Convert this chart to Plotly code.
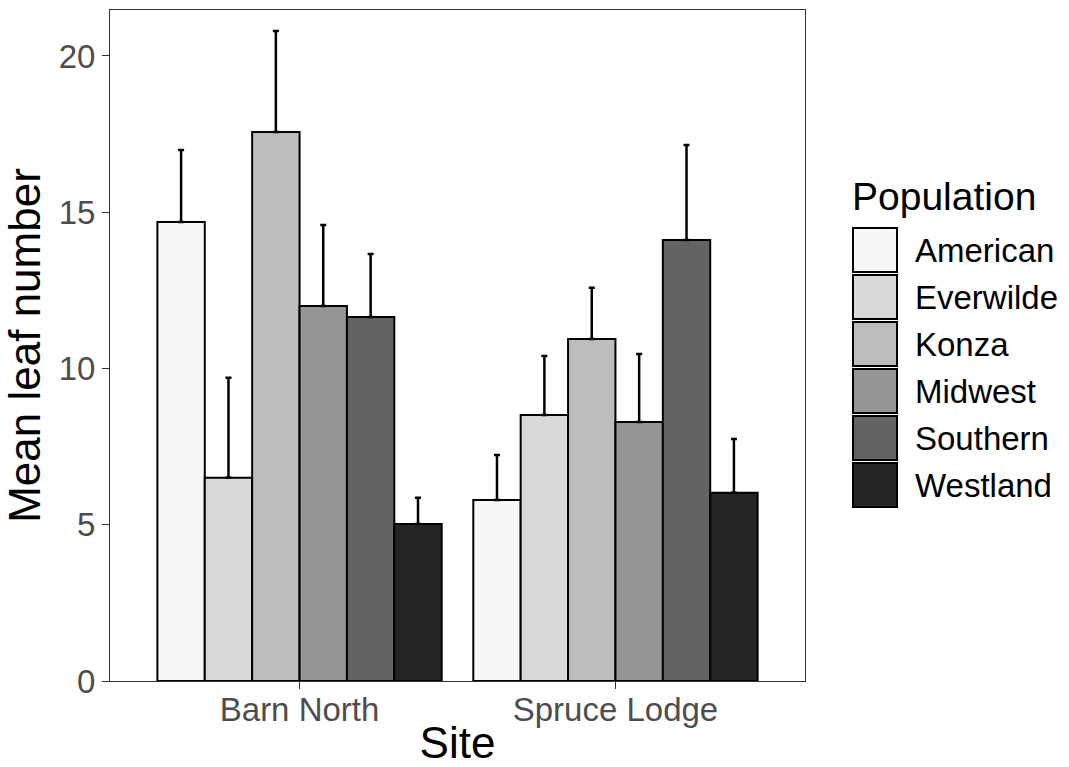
import plotly.graph_objects as go

sites = ["Barn North", "Spruce Lodge"]
populations = ["American", "Everwilde", "Konza", "Midwest", "Southern", "Westland"]
colors = ["#F7F7F7", "#D9D9D9", "#BDBDBD", "#969696", "#636363", "#252525"]

# mean leaf number per population: [Barn North, Spruce Lodge]
mean_american = [14.69, 5.79]
mean_everwilde = [6.50, 8.51]
mean_konza = [17.57, 10.94]
mean_midwest = [12.00, 8.29]
mean_southern = [11.65, 14.11]
mean_westland = [5.02, 6.02]

# upper error (SE) per population: [Barn North, Spruce Lodge]
se_american = [2.30, 1.44]
se_everwilde = [3.20, 1.89]
se_konza = [3.23, 1.64]
se_midwest = [2.59, 2.17]
se_southern = [2.01, 3.04]
se_westland = [0.84, 1.72]

means = [mean_american, mean_everwilde, mean_konza, mean_midwest, mean_southern, mean_westland]
ses = [se_american, se_everwilde, se_konza, se_midwest, se_southern, se_westland]

FONT = "Liberation Sans, Arial, sans-serif"

fig = go.Figure()
for name, col, m, s in zip(populations, colors, means, ses):
    fig.add_trace(go.Bar(
        x=sites, y=m, name=name,
        marker=dict(color=col, line=dict(color="black", width=2)),
        error_y=dict(type="data", array=s, arrayminus=[0] * len(s), symmetric=False,
                     color="black", thickness=2.5, width=3),
        showlegend=False,
    ))

W, H = 1069, 767
L, R, T, B = 110, 805, 10, 681

def px_x(x):
    return (x - L) / (R - L)

def px_y(y):
    return (B - y) / (B - T)

shapes = []
annotations = []
annotations.append(dict(text="Population", x=px_x(850), y=px_y(196), xref="paper", yref="paper",
                        xanchor="left", yanchor="middle", showarrow=False,
                        font=dict(family=FONT, size=39, color="black")))
for i, (name, col) in enumerate(zip(populations, colors)):
    top = 228 + 47 * i
    bot = top + 44
    shapes.append(dict(type="rect", xref="paper", yref="paper",
                       x0=px_x(853), x1=px_x(897), y0=px_y(bot), y1=px_y(top),
                       fillcolor=col, line=dict(color="black", width=2)))
    annotations.append(dict(text=name, x=px_x(913), y=px_y((top + bot) / 2), xref="paper", yref="paper",
                            xanchor="left", yanchor="middle", showarrow=False,
                            font=dict(family=FONT, size=33, color="black")))

fig.update_layout(
    width=W, height=H,
    margin=dict(l=L, r=W - R, t=T, b=H - B, pad=0, autoexpand=False),
    barmode="group", bargap=0.1, bargroupgap=0,
    plot_bgcolor="white", paper_bgcolor="white",
    font=dict(family=FONT),
    shapes=shapes, annotations=annotations,
    xaxis=dict(range=[-0.6, 1.6], showgrid=False, zeroline=False, automargin=False,
               showline=True, linecolor="#333333", linewidth=1, mirror=True,
               ticks="outside", ticklen=7, tickcolor="#333333", tickwidth=1,
               ticklabelstandoff=-8,
               tickfont=dict(family=FONT, size=33, color="#4D4D4D"),
               title=dict(text="Site", font=dict(family=FONT, size=44, color="black"), standoff=14)),
    yaxis=dict(range=[0, 21.47], showgrid=False, zeroline=False, automargin=False,
               showline=True, linecolor="#333333", linewidth=1, mirror=True,
               tickvals=[0, 5, 10, 15, 20],
               ticks="outside", ticklen=7, tickcolor="#333333", tickwidth=1,
               tickfont=dict(family=FONT, size=33, color="#4D4D4D"),
               title=dict(text="Mean leaf number", font=dict(family=FONT, size=44, color="black"), standoff=6)),
)

fig.write_html("out.html", config={"displayModeBar": False},
               post_script="document.body.style.margin='0';")
